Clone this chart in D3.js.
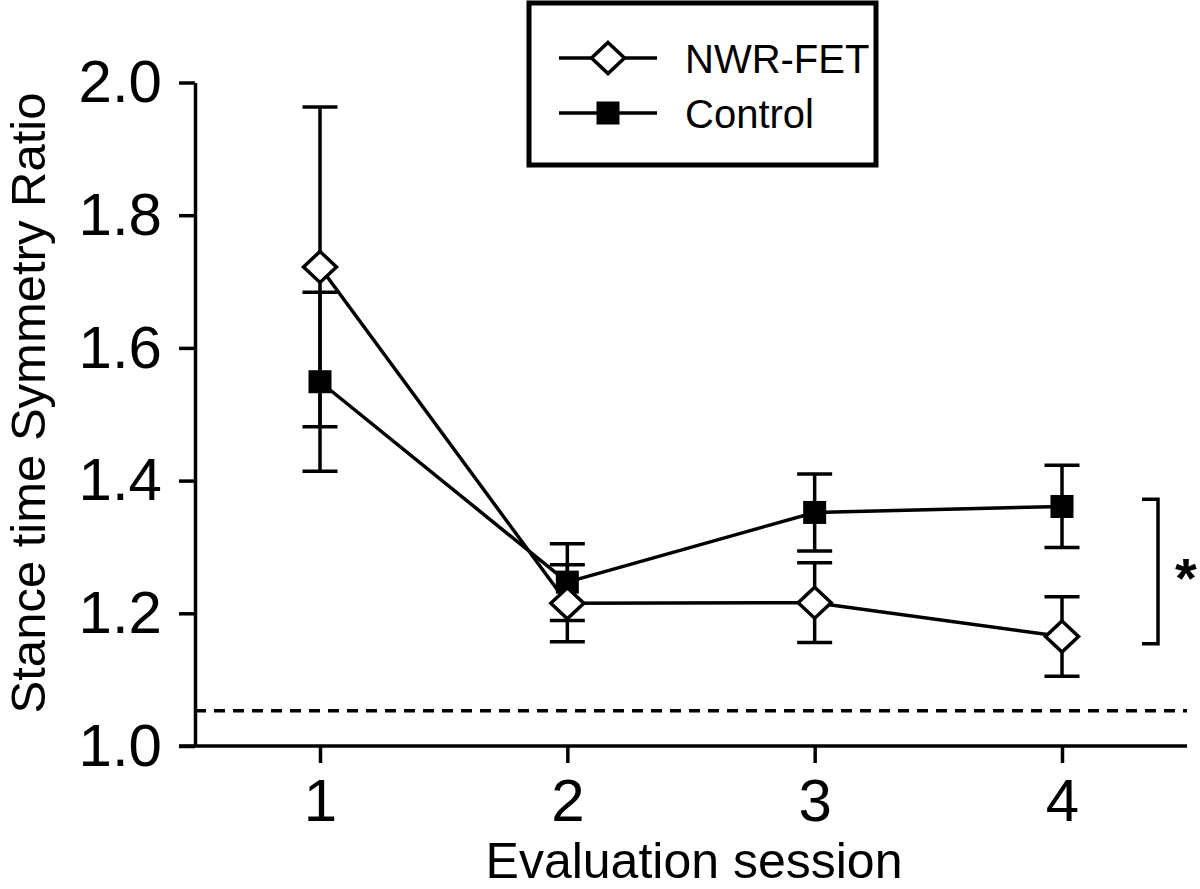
<!DOCTYPE html>
<html>
<head>
<meta charset="utf-8">
<script src="https://cdn.jsdelivr.net/npm/d3@7"></script>
<style>
  html, body { margin: 0; padding: 0; background: #fff; }
  svg { display: block; font-family: "Liberation Sans", Arial, sans-serif; }
</style>
</head>
<body>
<svg id="chart" width="1200" height="889"></svg>
<script>
// ---- data ----
const sessions = [1, 2, 3, 4];
const nwrMean = [1.722, 1.215, 1.216, 1.165];
const nwrErr  = [0.241, 0.058, 0.060, 0.060];
const ctrlMean = [1.549, 1.247, 1.352, 1.361];
const ctrlErr  = [0.135, 0.058, 0.058, 0.062];
const yTicks = [1.0, 1.2, 1.4, 1.6, 1.8, 2.0];
const referenceLine = 1.053;
const bracketRange = [1.154, 1.372];
const seriesNames = ["NWR-FET", "Control"];
const xTitle = "Evaluation session";
const yTitle = "Stance time Symmetry Ratio";

// ---- layout ----
const svg = d3.select("#chart");
const x = d3.scaleLinear().domain([1, 4]).range([320, 1062]);
const y = d3.scaleLinear().domain([1, 2]).range([746, 82.5]);
const axisLeftX = 195;
const xAxisStart = 179, xAxisEnd = 1187;
const lw = 3.5;

// reference dashed line
svg.append("line")
  .attr("x1", axisLeftX).attr("x2", xAxisEnd)
  .attr("y1", y(referenceLine)).attr("y2", y(referenceLine))
  .attr("stroke", "#000").attr("stroke-width", 3.5)
  .attr("stroke-dasharray", "11,8");

// y axis
const yAxis = svg.append("g")
  .attr("transform", `translate(${axisLeftX},0)`)
  .call(d3.axisLeft(y).tickValues(yTicks).tickFormat(d3.format(".1f"))
        .tickSize(16).tickSizeOuter(0).tickPadding(17));
yAxis.selectAll("path, line").attr("stroke", "#000").attr("stroke-width", lw);
yAxis.selectAll("text").attr("font-size", 60).attr("fill", "#000")
  .attr("font-family", "'Liberation Sans', Arial, sans-serif");

// x axis
const xAxis = svg.append("g")
  .attr("transform", `translate(0,${y(1)})`)
  .call(d3.axisBottom(x).tickValues(sessions).tickFormat(d3.format("d"))
        .tickSize(17).tickSizeOuter(0).tickPadding(15));
xAxis.select(".domain").attr("d", `M${xAxisStart},0H${xAxisEnd}`);
xAxis.selectAll("path, line").attr("stroke", "#000").attr("stroke-width", lw);
xAxis.selectAll("text").attr("font-size", 60).attr("fill", "#000")
  .attr("font-family", "'Liberation Sans', Arial, sans-serif");

// axis titles
svg.append("text")
  .attr("x", (x(1) + x(4)) / 2 + 3).attr("y", 878)
  .attr("text-anchor", "middle").attr("font-size", 50)
  .text(xTitle);
svg.append("text")
  .attr("transform", `translate(45,403) rotate(-90)`)
  .attr("text-anchor", "middle").attr("font-size", 49)
  .text(yTitle);

// series
const ctrlData = sessions.map((s, i) => ({ s, m: ctrlMean[i], e: ctrlErr[i] }));
const nwrData = sessions.map((s, i) => ({ s, m: nwrMean[i], e: nwrErr[i] }));
const line = d3.line().x(d => x(d.s)).y(d => y(d.m));
const capHalf = 17.5;

function errorBars(data) {
  const g = svg.append("g").attr("stroke", "#000").attr("stroke-width", lw);
  data.forEach(d => {
    g.append("line").attr("x1", x(d.s)).attr("x2", x(d.s))
      .attr("y1", y(d.m + d.e)).attr("y2", y(d.m - d.e));
    [d.m + d.e, d.m - d.e].forEach(v => {
      g.append("line").attr("x1", x(d.s) - capHalf).attr("x2", x(d.s) + capHalf)
        .attr("y1", y(v)).attr("y2", y(v));
    });
  });
}
errorBars(ctrlData);
errorBars(nwrData);

svg.append("path").datum(ctrlData).attr("d", line)
  .attr("fill", "none").attr("stroke", "#000").attr("stroke-width", lw);
svg.append("path").datum(nwrData).attr("d", line)
  .attr("fill", "none").attr("stroke", "#000").attr("stroke-width", lw);

const sq = 23;
const diamondPath = "M0,-15.5L16.5,0L0,15.5L-16.5,0Z";

svg.append("g").selectAll("rect").data(ctrlData).join("rect")
  .attr("x", d => x(d.s) - sq / 2).attr("y", d => y(d.m) - sq / 2)
  .attr("width", sq).attr("height", sq).attr("fill", "#000");
svg.append("g").selectAll("path").data(nwrData).join("path")
  .attr("d", diamondPath)
  .attr("transform", d => `translate(${x(d.s)},${y(d.m)})`)
  .attr("fill", "#fff").attr("stroke", "#000").attr("stroke-width", lw);

// significance bracket
const bx = 1158, bx0 = 1142;
svg.append("path")
  .attr("d", `M${bx0},${y(bracketRange[1])}H${bx}V${y(bracketRange[0])}H${bx0}`)
  .attr("fill", "none").attr("stroke", "#000").attr("stroke-width", lw);
svg.append("text")
  .attr("x", 1186).attr("y", 597)
  .attr("text-anchor", "middle").attr("font-size", 56).attr("font-weight", "bold")
  .text("*");

// legend
svg.append("rect")
  .attr("x", 529).attr("y", 3).attr("width", 347).attr("height", 162)
  .attr("fill", "#fff").attr("stroke", "#000").attr("stroke-width", 5);
const legendY = [58, 113];
seriesNames.forEach((name, i) => {
  svg.append("line").attr("x1", 559).attr("x2", 657)
    .attr("y1", legendY[i]).attr("y2", legendY[i])
    .attr("stroke", "#000").attr("stroke-width", lw);
  if (i === 0) {
    svg.append("path").attr("d", diamondPath)
      .attr("transform", `translate(608,${legendY[i]})`)
      .attr("fill", "#fff").attr("stroke", "#000").attr("stroke-width", lw);
  } else {
    svg.append("rect").attr("x", 608 - sq / 2).attr("y", legendY[i] - sq / 2)
      .attr("width", sq).attr("height", sq).attr("fill", "#000");
  }
  svg.append("text").attr("x", 685).attr("y", legendY[i] + 14.5)
    .attr("font-size", 40).text(name);
});
</script>
</body>
</html>
